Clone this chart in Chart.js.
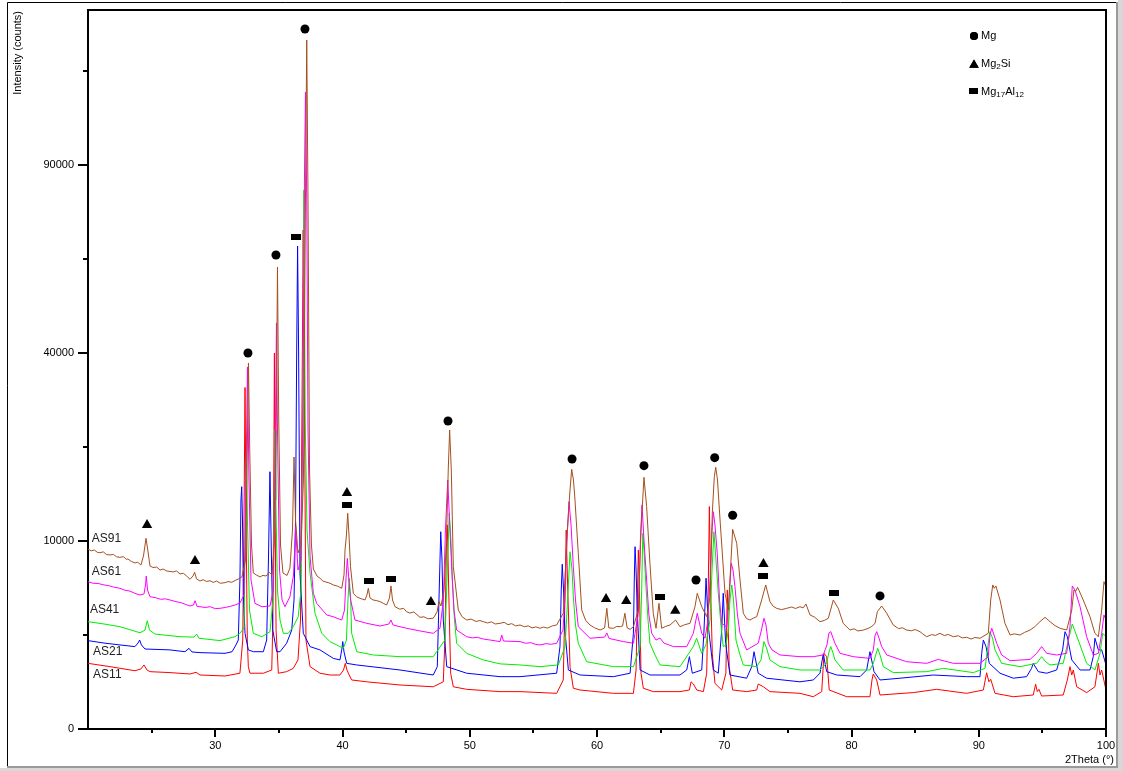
<!DOCTYPE html>
<html>
<head>
<meta charset="utf-8">
<script src="https://cdn.jsdelivr.net/npm/chart.js@4.4.1/dist/chart.umd.min.js"></script>
<style>
  html, body { margin: 0; padding: 0; background: #fff; }
  canvas { display: block; }
</style>
</head>
<body>
<canvas id="xrd" width="1123" height="771"></canvas>
<script>
// XRD patterns, [2theta, counts]
const as91 = [
  [20.0, 9170], [20.25, 8980], [20.5, 9060], [20.75, 8820], [20.94, 8790], [21.2, 8880],
  [21.45, 8610], [21.73, 8570], [22.0, 8620], [22.25, 8380], [22.51, 8340], [22.8, 8400],
  [23.0, 8150], [23.14, 8180], [23.4, 7950], [23.69, 7800], [23.9, 7870], [24.16, 7610],
  [24.36, 8470], [24.56, 10290], [24.72, 8860], [24.87, 7520], [25.1, 7380], [25.4, 7420],
  [25.66, 7150], [25.9, 7240], [26.2, 7060], [26.44, 7020], [26.7, 6980], [26.95, 7070],
  [27.23, 6800], [27.5, 6860], [27.75, 6620], [28.02, 6340], [28.25, 6620], [28.38, 6950],
  [28.53, 6370], [28.80, 6200], [29.05, 6310], [29.3, 6160], [29.59, 6220], [29.85, 6080],
  [30.1, 6190], [30.4, 6010], [30.77, 6060], [31.0, 6150], [31.3, 6090], [31.63, 6280],
  [31.85, 6380], [32.10, 6560], [32.38, 8080],
  [32.52, 22020], [32.61, 37900], [32.71, 22020], [32.85, 9580], [32.99, 6890], [33.25, 6700],
  [33.52, 6540], [33.75, 6680], [33.99, 6620], [34.25, 6950], [34.46, 6710], [34.66, 10110],
  [34.80, 27010], [34.89, 60390],
  [34.99, 27010], [35.13, 9580], [35.32, 6890], [35.64, 6670], [35.87, 7330], [36.07, 11200],
  [36.19, 20930], [36.31, 12360], [36.50, 8760], [36.74, 9580], [36.93, 17540], [37.09, 79180],
  [37.19, 134310], [37.29, 79180], [37.41, 18980], [37.56, 9580], [37.71, 7240], [38.0, 6620],
  [38.23, 6430], [38.45, 6200], [38.70, 6110], [39.0, 6020], [39.28, 5870], [39.6, 5780],
  [39.94, 5600], [40.12, 6710], [40.20, 9070], [40.31, 10650],
  [40.41, 13160], [40.51, 10650], [40.63, 7450], [40.85, 5210], [41.1, 4950], [41.38, 4830],
  [41.77, 4710], [41.92, 5080], [42.03, 5600], [42.16, 4860], [42.40, 4710], [42.7, 4660],
  [42.95, 4590], [43.2, 4470], [43.47, 4350],
  [43.69, 4860], [43.81, 5790], [43.93, 4710], [44.13, 4230], [44.5, 4060], [44.8, 4120],
  [45.04, 3890], [45.3, 3800], [45.6, 3880], [46.09, 3530], [46.4, 3560], [46.7, 3440],
  [47.13, 3470], [47.43, 3870], [47.58, 4590], [47.74, 4280], [47.98, 5470], [48.17, 10110],
  [48.31, 18980], [48.42, 25290], [48.55, 18980], [48.71, 7450], [48.92, 5470], [49.10, 4010],
  [49.4, 3560], [49.76, 3360], [50.1, 3420], [50.5, 3270], [50.8, 3330], [51.06, 3260],
  [51.4, 3180], [51.7, 3250], [52.0, 3120], [52.38, 3160], [52.7, 3220], [53.0, 3080],
  [53.3, 3140], [53.6, 3010], [53.95, 3060], [54.3, 2960], [54.6, 3010], [54.9, 2890],
  [55.2, 2950], [55.52, 2870], [55.8, 2940], [56.1, 2880], [56.5, 3010], [56.83, 3060],
  [57.35, 3790], [57.67, 11200], [57.88, 16160], [58.01, 19080], [58.15, 17540], [58.27, 14840],
  [58.53, 8730], [58.80, 4010], [59.1, 3350], [59.45, 3060], [59.8, 2900], [60.24, 2770],
  [60.60, 2890], [60.77, 4120],
  [60.93, 2890], [61.29, 2870], [61.55, 2980], [61.82, 2960], [62.01, 3000], [62.19, 3790],
  [62.37, 2890], [62.60, 2810], [62.86, 2960], [63.25, 4010], [63.46, 11200], [63.69, 17920],
  [63.90, 13980], [64.16, 7770], [64.42, 3790], [64.64, 2870], [64.87, 4470], [65.08, 2870],
  [65.4, 2980], [65.74, 3060], [66.18, 3360], [66.52, 2960], [66.9, 3080], [67.31, 3160],
  [67.70, 4230], [67.88, 5210], [68.23, 4230],
  [68.62, 3570], [68.88, 4950], [69.06, 13160], [69.22, 18010], [69.33, 19380], [69.47, 17540],
  [69.67, 12360], [70.06, 5210], [70.32, 4010], [70.49, 7150], [70.66, 11280], [70.98, 9760],
  [71.24, 6280], [71.50, 3790], [71.75, 3450], [72.02, 3360], [72.3, 3480], [72.55, 3570],
  [72.94, 4710], [73.26, 5870],
  [73.59, 4590], [73.85, 4260], [74.12, 4120], [74.5, 4030], [74.91, 4120], [75.3, 4210],
  [75.6, 4110], [75.95, 4230], [76.2, 4150], [76.42, 4420], [76.74, 3680], [77.1, 3540],
  [77.52, 3260], [77.85, 3330], [78.18, 3470], [78.57, 4710], [78.96, 4120], [79.35, 3160],
  [79.88, 2770], [80.2, 2840], [80.5, 2720], [80.93, 2770], [81.3, 2860], [81.6, 2980],
  [81.85, 3160], [82.03, 3890], [82.37, 4280], [82.77, 3790], [83.28, 3060], [83.7, 2850],
  [84.0, 2900], [84.34, 2770], [84.7, 2730], [85.0, 2800], [85.38, 2680], [85.6, 2560],
  [85.91, 2410], [86.3, 2520], [86.6, 2480], [86.95, 2590], [87.3, 2470], [87.6, 2530],
  [88.00, 2410], [88.4, 2460], [88.7, 2350], [89.05, 2380], [89.4, 2290], [89.7, 2370],
  [90.10, 2330], [90.75, 2590], [90.94, 4710], [91.10, 5870], [91.22, 5600], [91.35, 5790],
  [91.67, 4710], [92.06, 3160], [92.46, 2500], [92.8, 2560], [93.24, 2500], [93.6, 2640],
  [94.03, 2770], [94.4, 2960], [94.81, 3260], [95.21, 3530], [95.60, 3260], [96.0, 3020],
  [96.39, 2870], [96.91, 2770], [97.31, 4010], [97.48, 5470], [97.6, 5350], [97.77, 5680],
  [98.21, 4710], [98.74, 3570], [99.13, 2590], [99.40, 2410], [99.66, 4010], [99.84, 6140],
  [100.0, 5730]
];

const as61 = [
  [20.0, 6140], [20.4, 6010], [20.8, 5990], [21.26, 5870], [21.6, 5820], [22.0, 5700],
  [22.51, 5600], [22.9, 5450], [23.3, 5380], [23.7, 5200], [24.09, 5080], [24.40, 5160],
  [24.52, 5870], [24.58, 6620], [24.68, 5470], [24.87, 4950], [25.3, 4880], [25.7, 4760],
  [26.1, 4790], [26.44, 4710], [26.9, 4590], [27.3, 4520], [27.7, 4380], [28.02, 4280],
  [28.29, 4350], [28.41, 4660], [28.57, 4250], [28.80, 4230], [29.2, 4180], [29.6, 4230],
  [30.0, 4100], [30.37, 4120], [30.8, 4180], [31.2, 4260], [31.55, 4350], [31.94, 4490],
  [32.26, 5080], [32.42, 17540], [32.53, 37080], [32.65, 17540], [32.81, 6280], [33.12, 4470],
  [33.67, 4230], [34.30, 4280], [34.57, 5470], [34.72, 23630], [34.81, 46640], [34.90, 23630],
  [35.05, 7150], [35.25, 4710], [35.48, 4230], [35.87, 4950], [36.15, 6710], [36.32, 11580],
  [36.50, 7150], [36.74, 8080], [36.90, 30620], [37.01, 85260], [37.09, 114800], [37.19, 79180],
  [37.29, 25290], [37.45, 8400], [37.71, 5210], [37.97, 4470], [38.76, 3680], [39.25, 3570],
  [39.94, 3360], [40.16, 4010], [40.27, 6280], [40.38, 8240], [40.50, 6280], [40.64, 4710],
  [40.98, 3360], [41.90, 3160], [42.95, 3000], [43.65, 3120], [43.81, 3360], [43.97, 3060],
  [45.04, 2870], [46.09, 2720], [47.13, 2590], [47.66, 2870], [47.93, 4710], [48.09, 11200],
  [48.27, 17540], [48.41, 12360], [48.58, 7450], [48.76, 4010], [48.97, 2770], [49.76, 2410],
  [50.2, 2350], [50.6, 2380], [51.06, 2290], [51.5, 2250], [52.0, 2200], [52.38, 2160],
  [52.51, 2500], [52.65, 2190], [53.95, 2160], [54.4, 2080], [54.8, 2110], [55.2, 2020],
  [55.52, 2000], [56.0, 2060], [56.4, 2030], [56.83, 2080], [57.33, 2770],
  [57.48, 4950], [57.64, 10110], [57.80, 14620], [57.96, 11780],
  [58.14, 7450], [58.31, 4710], [58.53, 2960], [59.45, 2330], [60.60, 2390], [60.77, 2610],
  [60.95, 2320], [62.08, 2160], [62.86, 2080], [63.25, 3790], [63.41, 10110], [63.54, 14200],
  [63.69, 10110], [63.90, 6280], [64.08, 3680], [64.30, 2590], [64.64, 2240], [64.95, 2340],
  [65.26, 2090], [66.00, 1920], [67.05, 1920], [67.57, 2590], [67.88, 3790], [68.23, 2590],
  [68.49, 2330], [68.72, 3360], [68.88, 6280], [69.04, 11200], [69.14, 13360], [69.27, 11780],
  [69.45, 8730], [69.63, 4710], [69.80, 3160], [70.19, 2960], [70.37, 4710], [70.55, 7770],
  [70.69, 7150], [70.84, 5730], [71.04, 3680], [71.24, 2590], [71.76, 1770], [72.67, 2080],
  [72.92, 2770], [73.12, 3470], [73.28, 3060], [73.46, 2080], [73.75, 1770], [74.38, 1550],
  [75.95, 1480], [77.00, 1480], [77.78, 1550], [78.07, 2000], [78.23, 2610], [78.37, 2680],
  [78.55, 2340], [78.70, 2080], [79.10, 1620], [80.14, 1480], [81.45, 1410], [81.72, 1770],
  [81.84, 2450], [81.98, 2680], [82.16, 2340], [82.37, 1920], [82.77, 1550], [84.34, 1280],
  [85.91, 1220], [86.82, 1370], [88.00, 1220], [90.10, 1220], [90.75, 1480], [90.88, 2500],
  [91.02, 2870], [91.20, 2500], [91.41, 2080], [91.80, 1550], [92.46, 1320], [94.03, 1370],
  [94.55, 1620], [94.94, 1920], [95.34, 1620], [96.12, 1550], [96.91, 1620], [97.17, 2960],
  [97.35, 5790], [97.56, 5470], [97.96, 4230], [98.48, 2410], [99.00, 1550], [99.40, 1620],
  [99.66, 2590], [99.84, 3680], [100.0, 3360]
];

const as41 = [
  [20.0, 3260], [21.26, 3120], [22.51, 2960], [24.09, 2620], [24.48, 2770], [24.66, 3320],
  [24.83, 2770], [25.27, 2550], [27.23, 2410], [28.33, 2390], [28.54, 2550], [28.72, 2330],
  [30.37, 2210], [31.55, 2410], [31.94, 2590], [32.26, 2890], [32.38, 12360], [32.45, 22020],
  [32.53, 12360], [32.69, 4010], [32.99, 2590], [33.67, 2410], [34.30, 2680], [34.54, 4710],
  [34.63, 14840], [34.70, 25290], [34.76, 14840], [34.89, 5470], [35.09, 3360], [35.35, 2590],
  [35.74, 2590], [36.13, 2960], [36.52, 3570], [36.74, 5470], [36.88, 27010], [36.97, 82200],
  [37.07, 27010], [37.21, 11200], [37.45, 6860], [37.84, 3790], [38.37, 2590], [39.02, 2160],
  [39.54, 2000], [40.06, 1840], [40.31, 2240], [40.43, 4710], [40.53, 6430], [40.64, 4710],
  [40.72, 2590], [41.12, 1690], [42.42, 1550], [44.52, 1480], [47.13, 1480], [48.05, 2240],
  [48.21, 6280], [48.39, 13160], [48.52, 10110], [48.63, 6280], [48.80, 3360], [48.97, 2080],
  [49.76, 1620], [51.06, 1350], [52.38, 1200], [53.95, 1160], [55.52, 1100], [56.96, 1160],
  [57.49, 1920], [57.69, 4710], [57.88, 8890], [58.04, 7150], [58.14, 4950], [58.31, 3060],
  [58.53, 2080], [59.19, 1280], [61.29, 1100], [62.86, 1100], [63.39, 1920], [63.51, 5470],
  [63.60, 10840], [63.69, 9070], [63.85, 5730], [64.01, 3360], [64.16, 2080], [64.56, 1550],
  [64.95, 1160], [66.52, 1100], [67.57, 1920], [67.83, 2330], [68.23, 1620], [68.56, 2000],
  [68.88, 3360], [69.04, 7150], [69.19, 11010], [69.35, 8080], [69.53, 5210], [69.74, 3060],
  [69.92, 1920], [70.13, 2000], [70.32, 2770], [70.45, 4710], [70.59, 5870], [70.73, 4710],
  [70.92, 2240], [71.24, 1550], [71.50, 1160], [72.55, 1100], [72.89, 1350], [73.12, 2160],
  [73.32, 1860], [73.59, 1350], [74.38, 1100], [75.95, 985], [77.52, 985], [78.05, 1220],
  [78.23, 1680], [78.37, 1920], [78.55, 1630], [78.70, 1350], [79.35, 985], [81.45, 985],
  [81.71, 1220], [82.06, 1840], [82.24, 1550], [82.50, 1100], [83.28, 900], [85.91, 930],
  [87.22, 1040], [89.57, 900], [90.49, 1040], [90.73, 2000], [90.88, 2680], [91.08, 2340],
  [91.28, 1770], [91.80, 1220], [93.24, 1100], [94.55, 1220], [94.94, 1480], [95.28, 1270],
  [95.60, 1160], [96.64, 1220], [97.04, 2240], [97.35, 3120], [97.82, 2240], [98.48, 1220],
  [99.13, 985], [99.53, 1620], [99.74, 2590], [100.0, 2410]
];

const as21 = [
  [20.0, 2210], [21.26, 2090], [22.51, 2000], [23.69, 1920], [23.93, 2090], [24.06, 2240],
  [24.20, 2000], [24.48, 1810], [26.44, 1770], [27.62, 1690], [27.94, 1840], [28.17, 1680],
  [28.80, 1650], [30.77, 1620], [31.32, 1690], [31.63, 2000], [31.81, 2240], [31.94, 6280],
  [32.02, 14840], [32.08, 16610], [32.14, 12360], [32.22, 4710], [32.34, 2590], [32.60, 1770],
  [32.99, 1690], [33.78, 1690], [34.04, 2240], [34.18, 8080], [34.30, 18730], [34.42, 8080],
  [34.52, 2770], [34.83, 1690], [35.09, 1690], [35.61, 2080], [36.01, 2770], [36.19, 4710],
  [36.31, 12360], [36.40, 40640], [36.47, 66000], [36.55, 40640], [36.66, 6860], [36.92, 2590],
  [37.45, 1920], [38.23, 1770], [39.28, 1410], [39.80, 1350], [39.94, 1770], [40.02, 2160],
  [40.12, 1680], [40.33, 1220], [41.12, 1160], [44.52, 985], [47.13, 825], [47.45, 1100],
  [47.58, 4710], [47.72, 11010], [47.82, 8080], [47.92, 3360], [48.19, 1100], [49.76, 880],
  [52.38, 775], [53.95, 775], [56.83, 880], [57.09, 1920], [57.19, 5470], [57.27, 7680],
  [57.37, 5470], [57.48, 2770], [57.75, 985], [58.67, 825], [61.29, 775], [62.60, 880],
  [62.86, 2590], [62.93, 6280], [62.99, 9400], [63.07, 7150], [63.17, 3790], [63.39, 985],
  [64.17, 825], [66.52, 825], [67.05, 985], [67.26, 1480], [67.49, 880], [68.23, 985],
  [68.41, 2770], [68.57, 6430], [68.75, 2960], [69.14, 985], [69.53, 880], [69.80, 2770],
  [69.92, 5210], [70.11, 2080], [70.45, 825], [71.76, 730], [72.16, 1100], [72.34, 1690],
  [72.67, 880], [73.33, 730], [75.95, 630], [77.00, 680], [77.52, 880], [77.78, 1590],
  [78.05, 930], [78.84, 825], [80.67, 775], [81.19, 985], [81.45, 1690], [81.77, 930],
  [82.24, 680], [83.81, 730], [86.43, 825], [89.05, 775], [90.10, 775], [90.23, 1620],
  [90.36, 2240], [90.57, 1920], [90.83, 1220], [91.67, 880], [92.71, 730], [93.76, 775],
  [94.15, 1040], [94.28, 1220], [94.68, 930], [95.34, 880], [96.12, 985], [96.59, 1770],
  [96.78, 2680], [96.96, 2410], [97.31, 1350], [97.96, 985], [98.74, 985], [99.00, 1480],
  [99.13, 2330], [99.40, 1770], [99.66, 1770], [100.0, 1160]
];

const as11 = [
  [20.0, 1220], [21.73, 1100], [23.69, 960], [24.16, 1020], [24.40, 1160], [24.64, 985],
  [24.87, 930], [26.44, 900], [28.02, 856], [28.49, 910], [28.80, 825], [30.77, 795],
  [31.94, 880], [32.16, 2240], [32.26, 12360], [32.34, 33000], [32.42, 12360], [32.52, 2240],
  [32.60, 1100], [32.73, 880], [33.78, 880], [34.44, 985], [34.53, 3360], [34.59, 14840],
  [34.65, 40000], [34.70, 14840], [34.78, 2770], [34.96, 880], [35.61, 930], [36.13, 1040],
  [36.50, 1350], [36.70, 3360], [36.82, 30620], [36.91, 70450], [37.01, 30620], [37.13, 2240],
  [37.45, 1100], [38.23, 880], [39.02, 825], [39.80, 825], [40.08, 985], [40.22, 1220],
  [40.35, 985], [40.46, 880], [40.72, 680], [41.90, 630], [44.52, 548], [47.13, 505],
  [47.92, 630], [48.05, 2240], [48.16, 9070], [48.24, 11780], [48.33, 6280], [48.50, 880],
  [48.71, 505], [49.76, 445], [52.38, 395], [53.95, 395], [56.83, 360], [57.35, 680],
  [57.48, 4710], [57.58, 11200], [57.68, 6280], [57.88, 1100], [58.14, 470], [58.67, 430],
  [61.29, 360], [62.86, 360], [63.07, 985], [63.17, 4710], [63.25, 9070], [63.35, 4710],
  [63.46, 880], [63.64, 470], [64.42, 395], [66.52, 395], [67.26, 430], [67.39, 630],
  [67.57, 573], [67.84, 430], [68.36, 395], [68.62, 880], [68.73, 4710], [68.83, 14000],
  [68.95, 4710], [69.06, 1620], [69.27, 590], [69.80, 430], [70.13, 880], [70.24, 5470],
  [70.39, 1100], [70.66, 430], [71.76, 395], [72.55, 430], [72.67, 573], [73.07, 505],
  [73.59, 395], [75.95, 360], [77.00, 295], [77.66, 395], [77.84, 1620], [78.05, 1480],
  [78.25, 430], [79.62, 295], [81.45, 295], [81.61, 680], [81.71, 856], [81.98, 680],
  [82.24, 327], [84.86, 375], [86.69, 445], [89.05, 360], [90.36, 430], [90.62, 895],
  [90.80, 630], [90.94, 700], [91.28, 360], [92.71, 295], [94.28, 327], [94.47, 565],
  [94.60, 395], [94.73, 445], [94.94, 308], [96.64, 327], [96.96, 680], [97.17, 1100],
  [97.31, 825], [97.43, 985], [97.70, 505], [98.48, 375], [99.13, 505], [99.40, 1220],
  [99.53, 825], [99.66, 985], [100.0, 430]
];

// phase markers, [2theta, counts]
const mgPeaks = [
  [32.57, 40000], [34.77, 63570], [37.05, 138640], [48.29, 26840], [58.04, 20630],
  [63.69, 19620], [67.78, 6280], [69.25, 20830], [70.66, 12920], [82.24, 5010]
];
const mg2SiPeaks = [
  [24.64, 11770], [28.41, 7990], [40.35, 15760], [46.95, 4560], [60.71, 4780],
  [62.30, 4640], [66.15, 3960], [73.08, 7700]
];
const mg17Al12Peaks = [
  [36.35, 68490], [40.35, 14200], [42.08, 6200], [43.81, 6370], [64.95, 4930],
  [73.08, 6580], [78.62, 5230]
];

const seriesNames = ['AS91', 'AS61', 'AS41', 'AS21', 'AS11'];
const xTickValues = [25, 30, 35, 40, 45, 50, 55, 60, 65, 70, 75, 80, 85, 90, 95, 100];
const xLabelled = [30, 40, 50, 60, 70, 80, 90, 100];
const yTickValues = [0, 2500, 10000, 22500, 40000, 62500, 90000, 122500];
const yLabelled = [0, 10000, 40000, 90000];

const FONT = '"Liberation Sans", Arial, sans-serif';

// square-root intensity axis
class SqrtScale extends Chart.LinearScale {
  getPixelForValue(value) {
    const a = Math.sqrt(this.min), b = Math.sqrt(this.max);
    return this.getPixelForDecimal((Math.sqrt(Math.max(value, 0)) - a) / (b - a));
  }
  getValueForPixel(pixel) {
    const a = Math.sqrt(this.min), b = Math.sqrt(this.max);
    const s = a + this.getDecimalForPixel(pixel) * (b - a);
    return s * s;
  }
}
SqrtScale.id = 'sqrt';
SqrtScale.defaults = Chart.LinearScale.defaults;
Chart.register(SqrtScale);

const rectMark = document.createElement('canvas');
rectMark.width = 10;
rectMark.height = 6;
(function () {
  const c = rectMark.getContext('2d');
  c.fillStyle = '#000';
  c.fillRect(0, 0, 10, 6);
})();

function drawChem(ctx, parts, x, y) {
  parts.forEach(p => {
    const sub = p[1];
    ctx.font = (sub ? '8px ' : '11px ') + FONT;
    ctx.fillText(p[0], x, sub ? y + 3 : y);
    x += ctx.measureText(p[0]).width;
  });
}

const decor = {
  id: 'decor',
  beforeDraw(chart) {
    const ctx = chart.ctx;
    ctx.save();
    ctx.fillStyle = '#fff';
    ctx.fillRect(0, 0, chart.width, chart.height);
    ctx.restore();
  },
  afterDraw(chart) {
    const { ctx, chartArea: a, scales: { x, y } } = chart;
    ctx.save();

    // outer frame
    ctx.fillStyle = '#d8d8d8';
    ctx.fillRect(1118, 0, chart.width - 1118, chart.height);
    ctx.fillRect(0, 768, chart.width, chart.height - 768);
    ctx.strokeStyle = '#000';
    ctx.lineWidth = 1;
    ctx.beginPath();
    ctx.moveTo(7.5, 768); ctx.lineTo(7.5, 2.5); ctx.lineTo(1118, 2.5);
    ctx.stroke();
    ctx.strokeStyle = '#9a9a9a';
    ctx.lineWidth = 2;
    ctx.beginPath();
    ctx.moveTo(1117, 2); ctx.lineTo(1117, 767); ctx.lineTo(7, 767);
    ctx.stroke();

    // plot box top and right
    ctx.strokeStyle = '#000';
    ctx.lineWidth = 2;
    ctx.beginPath();
    ctx.moveTo(a.left, a.top); ctx.lineTo(a.right, a.top); ctx.lineTo(a.right, a.bottom);
    ctx.stroke();

    // tick marks
    yTickValues.forEach(v => {
      const py = Math.round(y.getPixelForValue(v));
      const len = yLabelled.includes(v) ? 10 : 5;
      ctx.beginPath(); ctx.moveTo(a.left - len, py); ctx.lineTo(a.left, py); ctx.stroke();
    });
    xTickValues.forEach(v => {
      const px = Math.round(x.getPixelForValue(v));
      const len = xLabelled.includes(v) ? 8 : 4;
      ctx.beginPath(); ctx.moveTo(px, a.bottom); ctx.lineTo(px, a.bottom + len); ctx.stroke();
    });

    ctx.fillStyle = '#000';
    ctx.font = '11px ' + FONT;
    ctx.textBaseline = 'middle';

    // axis titles
    ctx.textAlign = 'right';
    ctx.fillText('2Theta (°)', 1114, 760);
    ctx.save();
    ctx.translate(18, 11);
    ctx.rotate(-Math.PI / 2);
    ctx.fillText('Intensity (counts)', 0, 0);
    ctx.restore();

    // series names at the left end of each trace
    ctx.textAlign = 'left';
    ctx.font = '12px ' + FONT;
    ctx.fillStyle = '#222';
    const labelAt = [[20.3, 10210], [20.3, 7000], [20.15, 4050], [20.4, 1690], [20.4, 825]];
    seriesNames.forEach((n, i) => {
      ctx.fillText(n, x.getPixelForValue(labelAt[i][0]), y.getPixelForValue(labelAt[i][1]));
    });

    // phase key
    ctx.fillStyle = '#000';
    Chart.helpers.drawPoint(ctx, { pointStyle: 'circle', radius: 4, rotation: 0, borderWidth: 0 }, 974, 36);
    ctx.fill();
    Chart.helpers.drawPoint(ctx, { pointStyle: 'triangle', radius: 5.5, rotation: 0, borderWidth: 0 }, 974, 65);
    ctx.fill();
    ctx.fillRect(969, 88, 9, 6);
    ctx.textAlign = 'left';
    drawChem(ctx, [['Mg', false]], 981, 36);
    drawChem(ctx, [['Mg', false], ['2', true], ['Si', false]], 981, 64);
    drawChem(ctx, [['Mg', false], ['17', true], ['Al', false], ['12', true]], 981, 92);

    ctx.restore();
  }
};

function trace(data, color) {
  return {
    type: 'line',
    data: data.map(p => ({ x: p[0], y: p[1] })),
    borderColor: color,
    borderWidth: 1,
    pointRadius: 0,
    tension: 0,
    fill: false
  };
}

function markers(data, style, radius) {
  return {
    type: 'line',
    data: data.map(p => ({ x: p[0], y: p[1] })),
    showLine: false,
    pointStyle: style,
    pointRadius: radius,
    pointBackgroundColor: '#000',
    pointBorderWidth: 0,
    borderColor: '#000'
  };
}

function noEdgePadding(s) {
  s.paddingTop = 0;
  s.paddingBottom = 0;
  s.paddingLeft = 0;
  s.paddingRight = 0;
}

new Chart(document.getElementById('xrd'), {
  type: 'line',
  data: {
    datasets: [
      markers(mgPeaks, 'circle', 4.5),
      markers(mg2SiPeaks, 'triangle', 6),
      markers(mg17Al12Peaks, rectMark, 5),
      trace(as91, '#a5501e'),
      trace(as61, '#ff00ff'),
      trace(as41, '#00ee00'),
      trace(as21, '#0000ff'),
      trace(as11, '#ff0000')
    ]
  },
  options: {
    responsive: false,
    animation: false,
    devicePixelRatio: 1,
    events: [],
    layout: { padding: { left: 0, right: 17, top: 10, bottom: 0 } },
    plugins: { legend: { display: false }, tooltip: { enabled: false } },
    scales: {
      x: {
        type: 'linear',
        min: 20,
        max: 100,
        bounds: 'data',
        afterBuildTicks: s => { s.ticks = xTickValues.map(v => ({ value: v })); },
        afterFit: s => { s.height = 42; noEdgePadding(s); },
        grid: { display: false, drawTicks: false },
        border: { display: true, color: '#000', width: 2 },
        ticks: {
          autoSkip: false, maxRotation: 0, padding: 10, color: '#000',
          font: { family: FONT, size: 11 },
          callback: v => xLabelled.includes(v) ? String(v) : ''
        }
      },
      y: {
        type: 'sqrt',
        min: 0,
        max: 146260,
        bounds: 'data',
        afterBuildTicks: s => { s.ticks = yTickValues.map(v => ({ value: v })); },
        afterFit: s => { s.width = 88; noEdgePadding(s); },
        grid: { display: false, drawTicks: false },
        border: { display: true, color: '#000', width: 2 },
        ticks: {
          autoSkip: false, padding: 14, color: '#000',
          font: { family: FONT, size: 11 },
          callback: v => yLabelled.includes(v) ? String(v) : ''
        }
      }
    }
  },
  plugins: [decor]
});
</script>
</body>
</html>
